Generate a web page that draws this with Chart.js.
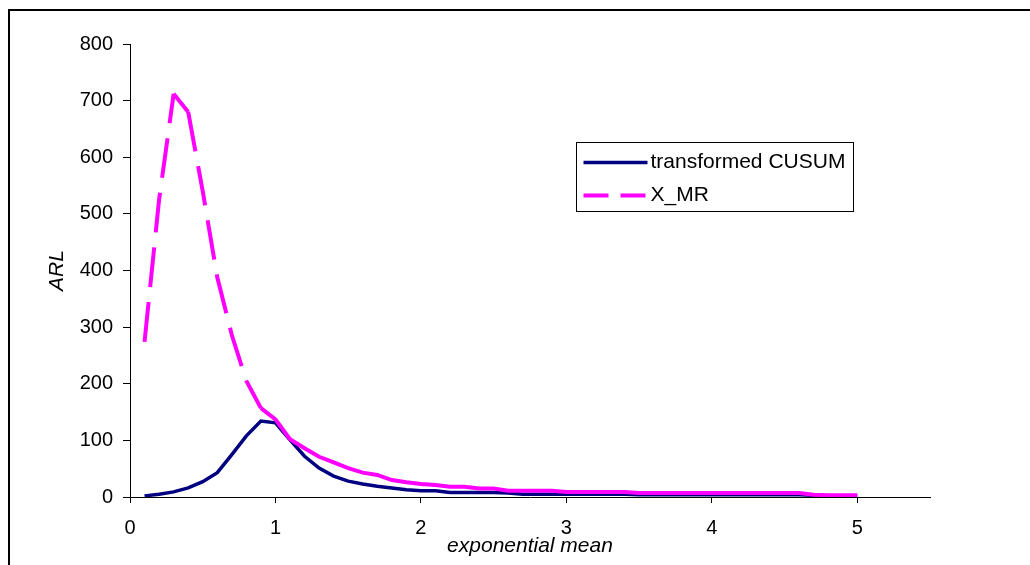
<!DOCTYPE html>
<html><head><meta charset="utf-8">
<script src="https://cdn.jsdelivr.net/npm/chart.js@4.4.0/dist/chart.umd.min.js"></script>
<style>html,body{margin:0;padding:0;background:#fff;overflow:hidden}#wrap{position:relative;width:1030px;height:565px}</style>
</head><body><div id="wrap"><canvas id="c" width="1030" height="565"></canvas></div>
<script>
const xValues = [0.1,0.2,0.3,0.4,0.5,0.6,0.7,0.8,0.9,1.0,
  1.1,1.2,1.3,1.4,1.5,1.6,1.7,1.8,1.9,2.0,
  2.1,2.2,2.3,2.4,2.5,2.6,2.7,2.8,2.9,3.0,
  3.1,3.2,3.3,3.4,3.5,3.6,3.7,3.8,3.9,4.0,
  4.1,4.2,4.3,4.4,4.5,4.6,4.7,4.8,4.9,5.0];
const cusumValues = [2,5,9,16,27,43,75,108,134,131,
  101,72,51,37,28,23,19,16,13,11,
  11,8,8,8,8,7,5,5,5,5,
  5,5,5,5,4,4,4,4,4,4,
  4,4,4,4,4,4,3,2,2,2];
const xmrValues = [274,525,712,680,540,388,286,205,157,137,
  102,86,71,61,51,43,39,30,26,23,
  21,18,18,15,15,11,11,11,11,9,
  9,9,9,9,7,7,7,7,7,7,
  7,7,7,7,7,7,4,3,3,3];
const seriesNames = ['transformed CUSUM', 'X_MR'];
const seriesColors = ['#000080', '#FF00FF'];
const xAxisTitle = 'exponential mean';
const yAxisTitle = 'ARL';
const xMin = 0, xMax = 5.5, xStep = 1;
const yMin = 0, yMax = 800, yStep = 100;

const FONT = "'Liberation Sans', Arial, sans-serif";
const legendDash = [25, 12];
const plotDash = [40, 15];

const framePlugin = {
  id: 'frame',
  beforeDraw(chart) {
    const ctx = chart.ctx;
    ctx.save();
    ctx.fillStyle = '#000';
    ctx.fillRect(8, 9, 2, 700);
    ctx.fillRect(8, 9, 1200, 2);
    ctx.restore();
  }
};

const legendPlugin = {
  id: 'boxLegend',
  afterDraw(chart) {
    const ctx = chart.ctx, ca = chart.chartArea;
    const bx = Math.round(ca.left + 446) + 0.5, by = Math.round(ca.top + 98) + 0.5;
    const bw = 277, bh = 69;
    ctx.save();
    ctx.fillStyle = '#fff';
    ctx.fillRect(bx, by, bw, bh);
    ctx.strokeStyle = '#000';
    ctx.lineWidth = 1;
    ctx.strokeRect(bx, by, bw, bh);
    chart.data.datasets.forEach((ds, i) => {
      const y = by + 20 + i * 33;
      ctx.beginPath();
      ctx.strokeStyle = ds.borderColor;
      ctx.lineWidth = ds.borderWidth;
      ctx.setLineDash(i === 1 ? legendDash : []);
      ctx.moveTo(bx + 7, y);
      ctx.lineTo(bx + 71, y);
      ctx.stroke();
      ctx.setLineDash([]);
      ctx.fillStyle = '#000';
      ctx.font = '21px ' + FONT;
      ctx.textAlign = 'left';
      ctx.textBaseline = 'middle';
      ctx.fillText(ds.label, bx + 74, y);
    });
    ctx.restore();
  }
};

const toPts = (ys) => xValues.map((x, i) => ({x: x, y: ys[i]}));

new Chart(document.getElementById('c'), {
  type: 'line',
  data: {
    datasets: [
      {label: seriesNames[0], data: toPts(cusumValues), borderColor: seriesColors[0], backgroundColor: seriesColors[0],
       borderWidth: 3.5, pointRadius: 0, tension: 0, order: 1, fill: false},
      {label: seriesNames[1], data: toPts(xmrValues), borderColor: seriesColors[1], backgroundColor: seriesColors[1],
       borderWidth: 4, pointRadius: 0, tension: 0, order: 0, fill: false,
       segment: {
         borderDash: (c) => Math.hypot(c.p1.x - c.p0.x, c.p1.y - c.p0.y) > 30 ? plotDash : []
       }}
    ]
  },
  options: {
    responsive: false,
    animation: false,
    devicePixelRatio: 1,
    layout: {padding: {left: 0, right: 100, top: 44, bottom: 0}},
    plugins: {legend: {display: false}, tooltip: {enabled: false}},
    scales: {
      x: {
        type: 'linear', min: xMin, max: xMax,
        afterFit: (s) => { s.height = 68; },
        ticks: {stepSize: xStep, includeBounds: false, color: '#000', font: {family: FONT, size: 20}, padding: 13, maxRotation: 0},
        grid: {display: true, drawOnChartArea: false, drawTicks: true, tickLength: 6, color: '#000'},
        border: {display: true, color: '#000', width: 1},
        title: {display: true, text: xAxisTitle, color: '#000', font: {family: FONT, size: 21, style: 'italic'}, padding: {top: 0, bottom: 6}}
      },
      y: {
        type: 'linear', min: yMin, max: yMax,
        afterFit: (s) => { s.width = 130; },
        ticks: {stepSize: yStep, color: '#000', font: {family: FONT, size: 20}, padding: 10},
        grid: {display: true, drawOnChartArea: false, drawTicks: true, tickLength: 7, color: '#000'},
        border: {display: true, color: '#000', width: 1},
        title: {display: true, text: yAxisTitle, color: '#000', font: {family: FONT, size: 21, style: 'italic'}, padding: {top: 45, bottom: 0}}
      }
    }
  },
  plugins: [framePlugin, legendPlugin]
});
</script></body></html>
